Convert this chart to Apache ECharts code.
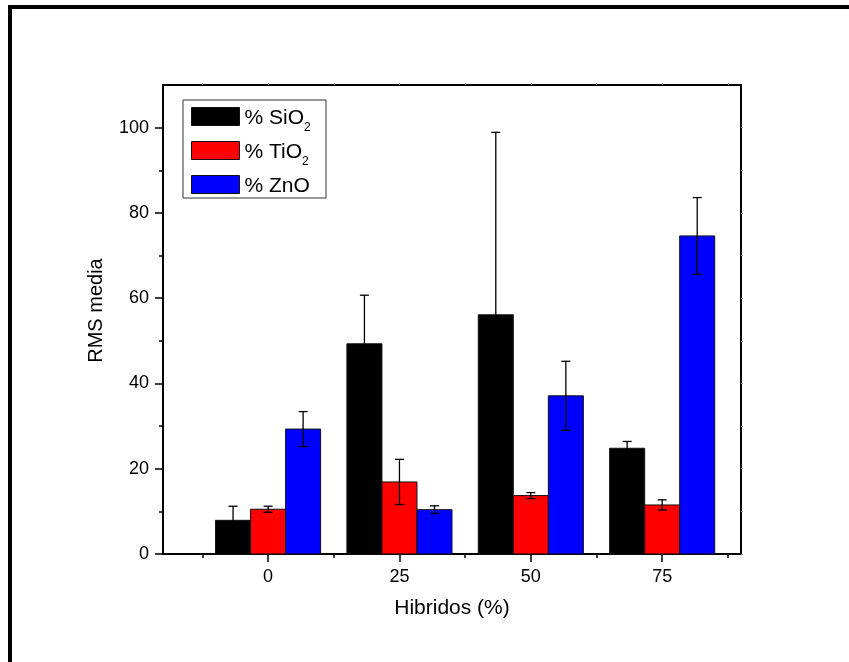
<!DOCTYPE html>
<html>
<head>
<meta charset="utf-8">
<script src="https://cdn.jsdelivr.net/npm/echarts@6/dist/echarts.min.js"></script>
<style>
  html, body { margin: 0; padding: 0; background: #fff; }
  #chart { width: 849px; height: 662px; }
</style>
</head>
<body>
<div id="chart"></div>
<script>
// Hybrid content (%) on the x axis
var categories = [0, 25, 50, 75];

// Mean RMS roughness and its error per oxide
var sio2 = [7.9, 49.3, 56.1, 24.8];
var sio2Err = [3.3, 11.4, 42.8, 1.6];
var tio2 = [10.5, 16.9, 13.7, 11.5];
var tio2Err = [0.7, 5.3, 0.7, 1.2];
var zno = [29.3, 10.4, 37.1, 74.6];
var znoErr = [4.1, 0.9, 8.1, 9.0];

// Tick positions
var xMajorTicks = [0, 25, 50, 75];
var xMinorTicks = [-12.5, 12.5, 37.5, 62.5, 87.5];
var yMajorTicks = [0, 20, 40, 60, 80, 100];
var yMinorTicks = [10, 30, 50, 70, 90];

var FONT = 'Liberation Sans, Arial, sans-serif';
var STEP = 25;
var BAR_W = STEP * 0.8 / 3;

function barSeries(name, values, errs, slot, color) {
  return {
    name: name,
    type: 'custom',
    xAxisIndex: 0,
    yAxisIndex: 0,
    itemStyle: { color: color, borderColor: '#111', borderWidth: 1 },
    encode: { x: 0, y: 1 },
    data: categories.map(function (c, i) { return [c, values[i], errs[i]]; }),
    renderItem: function (params, api) {
      var cx = api.value(0) + (slot - 1) * BAR_W;
      var v = api.value(1);
      var e = api.value(2);
      var tl = api.coord([cx - BAR_W / 2, v]);
      var br = api.coord([cx + BAR_W / 2, 0]);
      var mid = api.coord([cx, v]);
      var hi = api.coord([cx, v + e]);
      var lo = api.coord([cx, v - e]);
      var cap = 4.5;
      var lineStyle = { stroke: '#000', lineWidth: 1.3 };
      return {
        type: 'group',
        children: [
          {
            type: 'rect',
            shape: { x: tl[0], y: tl[1], width: br[0] - tl[0], height: br[1] - tl[1] },
            style: { fill: color, stroke: '#111', lineWidth: 1 }
          },
          { type: 'line', shape: { x1: mid[0], y1: hi[1], x2: mid[0], y2: lo[1] }, style: lineStyle },
          { type: 'line', shape: { x1: mid[0] - cap, y1: hi[1], x2: mid[0] + cap, y2: hi[1] }, style: lineStyle },
          { type: 'line', shape: { x1: mid[0] - cap, y1: lo[1], x2: mid[0] + cap, y2: lo[1] }, style: lineStyle }
        ]
      };
    }
  };
}

var axisLine = { show: true, onZero: false, lineStyle: { color: '#000', width: 2 } };
var noLine = { show: false, onZero: false };
var faintTick = { color: '#999', width: 1 };

var chart = echarts.init(document.getElementById('chart'), null, { renderer: 'canvas' });
chart.setOption({
  animation: false,
  backgroundColor: '#fff',
  textStyle: { fontFamily: FONT },
  grid: { left: 163, right: 108, top: 85, bottom: 108 },
  legend: {
    orient: 'vertical',
    left: 191,
    top: 107,
    padding: 0,
    itemWidth: 48,
    itemHeight: 18,
    itemGap: 7,
    icon: 'rect',
    selectedMode: false,
    data: [
      { name: 'SiO2', itemStyle: { color: '#000', borderColor: '#111', borderWidth: 1 } },
      { name: 'TiO2', itemStyle: { color: '#ff0000', borderColor: '#111', borderWidth: 1 } },
      { name: 'ZnO', itemStyle: { color: '#0000ff', borderColor: '#111', borderWidth: 1 } }
    ],
    formatter: function (name) {
      if (name === 'ZnO') return '{m|% ZnO}';
      return '{m|% ' + name.slice(0, -1) + '}{s|' + name.slice(-1) + '}';
    },
    textStyle: {
      fontFamily: FONT,
      color: '#000',
      padding: [4, 0, 0, 0],
      rich: {
        m: { fontSize: 21, lineHeight: 21, fontFamily: FONT, color: '#000' },
        s: { fontSize: 12, lineHeight: 6, padding: [14, 0, 0, 0], verticalAlign: 'top', fontFamily: FONT, color: '#000' }
      }
    }
  },
  graphic: [
    // outer frame, top and left edges
    { type: 'rect', shape: { x: 8, y: 5, width: 841, height: 4 }, style: { fill: '#000' }, silent: true },
    { type: 'rect', shape: { x: 8, y: 5, width: 4, height: 657 }, style: { fill: '#000' }, silent: true },
    // legend box
    { type: 'rect', shape: { x: 183, y: 100, width: 143, height: 98 }, style: { fill: 'none', stroke: '#333', lineWidth: 1 }, silent: true, z: 100 }
  ],
  xAxis: [
    {
      type: 'value', min: -20, max: 90, position: 'bottom',
      axisLine: axisLine,
      axisTick: { show: true, inside: false, length: 8, customValues: xMajorTicks, lineStyle: { color: '#000', width: 1.5 } },
      axisLabel: { show: true, customValues: xMajorTicks, fontSize: 18, margin: 14, color: '#000', fontFamily: FONT },
      splitLine: { show: false },
      name: 'Hibridos (%)', nameLocation: 'middle', nameGap: 44,
      nameTextStyle: { fontSize: 21, color: '#000', fontFamily: FONT }
    },
    {
      type: 'value', min: -20, max: 90, position: 'bottom',
      axisLine: noLine,
      axisTick: { show: true, inside: false, length: 4, customValues: xMinorTicks, lineStyle: { color: '#000', width: 1.5 } },
      axisLabel: { show: false },
      splitLine: { show: false }
    },
    {
      type: 'value', min: -20, max: 90, position: 'top',
      axisLine: axisLine,
      axisTick: { show: true, inside: false, length: 2, customValues: xMajorTicks.concat(xMinorTicks), lineStyle: faintTick },
      axisLabel: { show: false },
      splitLine: { show: false }
    }
  ],
  yAxis: [
    {
      type: 'value', min: 0, max: 110, position: 'left',
      axisLine: axisLine,
      axisTick: { show: true, inside: false, length: 8, customValues: yMajorTicks, lineStyle: { color: '#000', width: 1.5 } },
      axisLabel: { show: true, customValues: yMajorTicks, fontSize: 18, margin: 14, color: '#000', fontFamily: FONT },
      splitLine: { show: false },
      name: 'RMS media', nameLocation: 'middle', nameGap: 57, nameRotate: 90,
      nameTextStyle: { fontSize: 20, color: '#000', fontFamily: FONT, padding: [0, 0, 0, 18] }
    },
    {
      type: 'value', min: 0, max: 110, position: 'left',
      axisLine: noLine,
      axisTick: { show: true, inside: false, length: 4, customValues: yMinorTicks, lineStyle: { color: '#000', width: 1.5 } },
      axisLabel: { show: false },
      splitLine: { show: false }
    },
    {
      type: 'value', min: 0, max: 110, position: 'right',
      axisLine: axisLine,
      axisTick: { show: true, inside: false, length: 2, customValues: yMajorTicks.concat(yMinorTicks), lineStyle: faintTick },
      axisLabel: { show: false },
      splitLine: { show: false }
    }
  ],
  series: [
    barSeries('SiO2', sio2, sio2Err, 0, '#000000'),
    barSeries('TiO2', tio2, tio2Err, 1, '#ff0000'),
    barSeries('ZnO', zno, znoErr, 2, '#0000ff')
  ]
});
</script>
</body>
</html>
